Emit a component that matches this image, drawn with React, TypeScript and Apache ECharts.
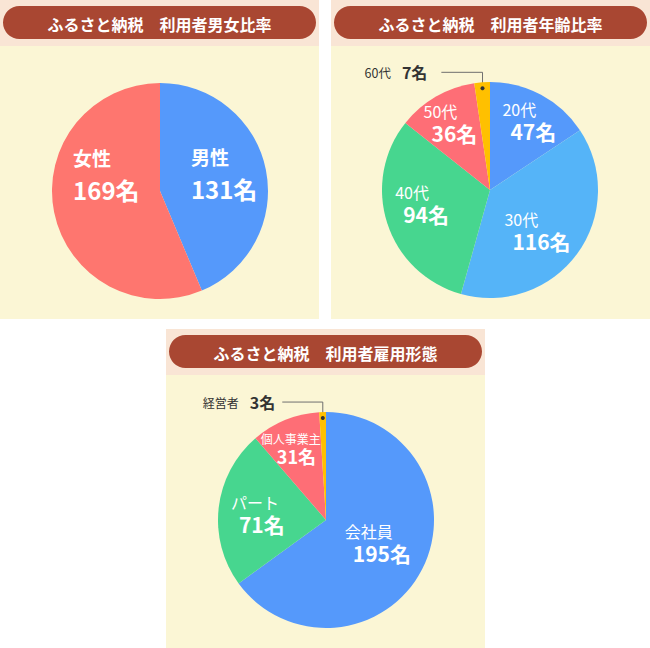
import React, { useEffect, useRef } from 'react';
import * as echarts from 'echarts';

// データ
const TITLES = [
  'ふるさと納税　利用者男女比率',
  'ふるさと納税　利用者年齢比率',
  'ふるさと納税　利用者雇用形態',
];

const GENDER_NAMES = ['男性', '女性'];
const GENDER_VALUES = [131, 169];

const AGE_NAMES = ['20代', '30代', '40代', '50代', '60代'];
const AGE_VALUES = [47, 116, 94, 36, 7];

const JOB_NAMES = ['会社員', 'パート', '個人事業主', '経営者'];
const JOB_VALUES = [195, 71, 31, 3];

// 色
const GENDER_COLORS = ['#5599fb', '#fe766f'];
const AGE_COLORS = ['#5599fb', '#55b4f8', '#47d68f', '#fe6e76', '#ffc000'];
const JOB_COLORS = ['#5599fb', '#47d68f', '#fe6e76', '#ffc000'];

const FONT = "'Noto Sans CJK JP', 'Noto Sans', sans-serif";
const HEAD_BG = '#f9e5d5';
const BODY_BG = '#fbf6d5';
const BAR_BG = '#a94732';

// レイアウト
const PANEL_W = 319;
const PANEL_H = 319;
const HEAD_H = 46;
const RADIUS = 108;
const PANELS = [
  { x: 0, y: 0, cx: 160, cy: 191 },
  { x: 331, y: 0, cx: 490, cy: 190 },
  { x: 166, y: 329, cx: 326, cy: 520 },
];

// 内側ラベルのずらし量 [dx, dy]（null は外側ラベル）
const GENDER_SHIFT: (number[] | null)[] = [[-25, -6], [-31, -28]];
const AGE_SHIFT: (number[] | null)[] = [[-14.5, -19], [-31.7, 7], [-40.6, -4], [-38, -18], null];
const JOB_SHIFT: (number[] | null)[] = [[-32, -3], [-38.4, 1], [-43.6, -19.5], null];

const AGE_OUTSIDE = 4;
const JOB_OUTSIDE = 3;
const JOB_SMALL = 2;

// スライス中央角の位置（データから計算）
const sliceAnchor = (values: number[], idx: number, cx: number, cy: number, rr: number) => {
  const total = values.reduce((a, b) => a + b, 0);
  const before = values.slice(0, idx).reduce((a, b) => a + b, 0);
  const ang = ((before + values[idx] / 2) / total) * Math.PI * 2;
  return [cx + rr * Math.sin(ang), cy - rr * Math.cos(ang)];
};

const buildData = (
  names: string[],
  values: number[],
  colors: string[],
  outsideIdx: number,
  gap = 14,
) =>
  names.map((name, i) => {
    const item: any = { name, value: values[i], itemStyle: { color: colors[i] } };
    if (i === outsideIdx) {
      item.label = { position: 'outside', distanceToLabelLine: gap };
      item.labelLine = {
        show: true,
        length: 10,
        length2: 40,
        lineStyle: { color: '#6f6f6f', width: 1 },
      };
    }
    return item;
  });

const makeLayout = (shift: (number[] | null)[], cx: number, cy: number, gap = 14) => (params: any) => {
  const s = shift[params.dataIndex];
  if (s) return { dx: s[0], dy: s[1], align: 'left' };
  const pts = params.labelLinePoints;
  if (!pts) return {};
  const k = (RADIUS - 6) / RADIUS;
  const x0 = cx + (pts[0][0] - cx) * k;
  const y0 = cy + (pts[0][1] - cy) * k;
  const yLine = pts[1][1];
  const rect = params.labelRect;
  return {
    labelLinePoints: [
      [x0, y0],
      [x0, yLine],
      [rect.x + rect.width + gap, yLine],
    ],
  };
};

const RICH_BIG = {
  n: { fontSize: 19, lineHeight: 30, fontWeight: 'bold', color: '#fff', fontFamily: FONT },
  v: { fontSize: 24, lineHeight: 34, fontWeight: 'bold', color: '#fff', fontFamily: FONT },
};

const RICH_MID = {
  n: { fontSize: 16, lineHeight: 20, color: '#fff', fontFamily: FONT },
  v: { fontSize: 21, lineHeight: 24, fontWeight: 'bold', color: '#fff', fontFamily: FONT, padding: [0, 0, 0, 8] },
  s: { fontSize: 12, lineHeight: 16, color: '#fff', fontFamily: FONT },
  w: { fontSize: 18, lineHeight: 19, fontWeight: 'bold', color: '#fff', fontFamily: FONT, padding: [0, 0, 0, 16] },
  o: { fontSize: 12.5, color: '#333', fontFamily: FONT },
  q: { fontSize: 12, color: '#333', fontFamily: FONT },
  p: { fontSize: 16, fontWeight: 'bold', color: '#333', fontFamily: FONT, padding: [0, 0, 0, 11] },
};

const pieBase = (idx: number) => ({
  type: 'pie',
  radius: RADIUS,
  center: [PANELS[idx].cx, PANELS[idx].cy],
  startAngle: 90,
  clockwise: true,
  avoidLabelOverlap: false,
  emphasis: { disabled: true },
  labelLine: { show: false },
  itemStyle: { borderWidth: 0 },
});

export default function App() {
  const chartRef = useRef<HTMLDivElement>(null);

  useEffect(() => {
    if (!chartRef.current) return;
    const chart = echarts.init(chartRef.current, null, { renderer: 'svg' });

    const panelGraphics: any[] = [];
    PANELS.forEach((p, i) => {
      panelGraphics.push(
        { type: 'rect', z: -10, shape: { x: p.x, y: p.y, width: PANEL_W, height: PANEL_H }, style: { fill: BODY_BG } },
        { type: 'rect', z: -9, shape: { x: p.x, y: p.y, width: PANEL_W, height: HEAD_H }, style: { fill: HEAD_BG } },
        {
          type: 'rect',
          z: -8,
          shape: { x: p.x + 3, y: p.y + 6, width: PANEL_W - 6, height: 33, r: 16.5 },
          style: { fill: BAR_BG },
        },
        {
          type: 'text',
          z: -7,
          x: p.x + PANEL_W / 2,
          y: p.y + 23.5,
          style: {
            text: TITLES[i],
            fill: '#fff',
            font: `bold 16px ${FONT}`,
            align: 'center',
            verticalAlign: 'middle',
          },
        },
      );
    });

    // 外側ラベルの点
    const ageDot = sliceAnchor(AGE_VALUES, AGE_OUTSIDE, PANELS[1].cx, PANELS[1].cy, RADIUS - 6);
    const jobDot = sliceAnchor(JOB_VALUES, JOB_OUTSIDE, PANELS[2].cx, PANELS[2].cy, RADIUS - 6);
    [ageDot, jobDot].forEach((d) => {
      panelGraphics.push({
        type: 'circle',
        z: 100,
        shape: { cx: d[0], cy: d[1], r: 2 },
        style: { fill: '#333' },
      });
    });

    chart.setOption({
      animation: false,
      backgroundColor: '#fff',
      graphic: { elements: panelGraphics },
      series: [
        {
          ...pieBase(0),
          data: buildData(GENDER_NAMES, GENDER_VALUES, GENDER_COLORS, -1),
          label: {
            show: true,
            position: 'inside',
            formatter: '{n|{b}}\n{v|{c}名}',
            rich: RICH_BIG,
          },
          labelLayout: makeLayout(GENDER_SHIFT, PANELS[0].cx, PANELS[0].cy),
        },
        {
          ...pieBase(1),
          data: buildData(AGE_NAMES, AGE_VALUES, AGE_COLORS, AGE_OUTSIDE, 14),
          label: {
            show: true,
            position: 'inside',
            formatter: (prm: any) =>
              prm.dataIndex === AGE_OUTSIDE
                ? `{o|${prm.name}}{p|${prm.value}名}`
                : `{n|${prm.name}}\n{v|${prm.value}名}`,
            rich: RICH_MID,
          },
          labelLayout: makeLayout(AGE_SHIFT, PANELS[1].cx, PANELS[1].cy, 14),
        },
        {
          ...pieBase(2),
          data: buildData(JOB_NAMES, JOB_VALUES, JOB_COLORS, JOB_OUTSIDE, 7),
          label: {
            show: true,
            position: 'inside',
            formatter: (prm: any) => {
              if (prm.dataIndex === JOB_OUTSIDE) return `{q|${prm.name}}{p|${prm.value}名}`;
              if (prm.dataIndex === JOB_SMALL) return `{s|${prm.name}}\n{w|${prm.value}名}`;
              return `{n|${prm.name}}\n{v|${prm.value}名}`;
            },
            rich: RICH_MID,
          },
          labelLayout: makeLayout(JOB_SHIFT, PANELS[2].cx, PANELS[2].cy, 7),
        },
      ],
    });

    return () => {
      chart.dispose();
    };
  }, []);

  return (
    <div
      ref={chartRef}
      style={{ position: 'absolute', left: 0, top: 0, width: 650, height: 648 }}
    />
  );
}
